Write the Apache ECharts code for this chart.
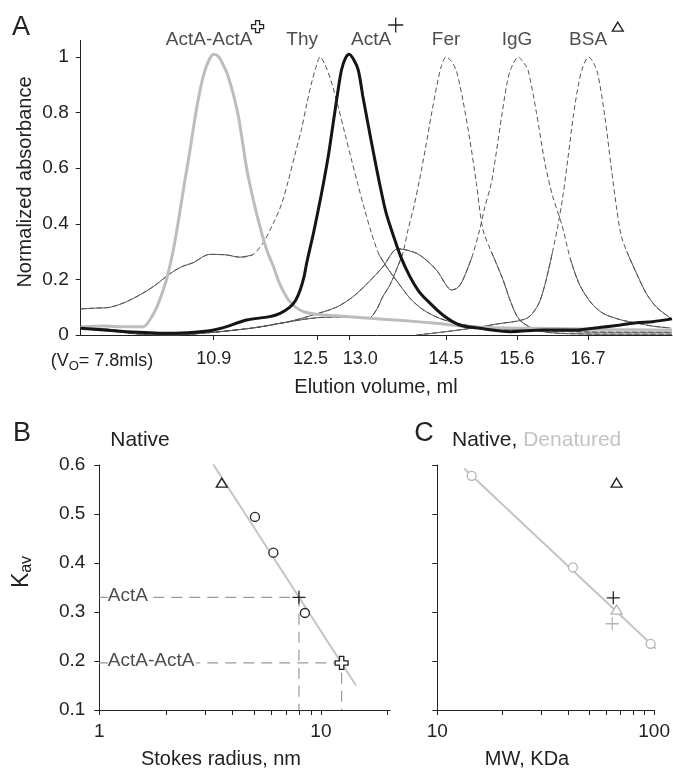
<!DOCTYPE html>
<html>
<head>
<meta charset="utf-8">
<script src="https://cdn.jsdelivr.net/npm/echarts@6/dist/echarts.min.js"></script>
<style>
body{margin:0;background:#fff;}
#main{width:673px;height:768px;}
</style>
</head>
<body>
<div id="main"></div>
<script>
// ---- panel A : elution profiles, [volume ml, normalized absorbance]
var actaDimerCurve = [[8.84,0.03],[9.2,0.032],[9.5,0.03],[9.81,0.03],[9.91,0.054],[10.02,0.10],[10.1,0.15],[10.17,0.2],[10.27,0.3],[10.36,0.42],[10.45,0.55],[10.53,0.66],[10.61,0.78],[10.68,0.87],[10.75,0.94],[10.83,0.99],[10.9,1.01],[10.98,1.0],[11.05,0.97],[11.11,0.94],[11.2,0.87],[11.28,0.79],[11.35,0.69],[11.41,0.6],[11.52,0.48],[11.64,0.37],[11.73,0.3],[11.82,0.25],[11.93,0.18],[12.08,0.12],[12.29,0.084],[12.6,0.072],[13.0,0.066],[13.32,0.06],[13.83,0.052],[14.35,0.042],[14.87,0.03],[15.5,0.025],[16.2,0.023],[17.0,0.02],[18.0,0.017]];
var actaCurve = [[8.84,0.024],[9.2,0.018],[9.55,0.012],[10.22,0.006],[10.6,0.01],[10.9,0.018],[11.1,0.03],[11.41,0.054],[11.77,0.066],[11.93,0.078],[12.08,0.10],[12.17,0.125],[12.24,0.162],[12.3,0.21],[12.34,0.258],[12.39,0.31],[12.44,0.36],[12.52,0.45],[12.6,0.545],[12.68,0.65],[12.75,0.76],[12.82,0.87],[12.88,0.953],[12.94,0.995],[13.0,1.01],[13.07,0.99],[13.14,0.953],[13.21,0.86],[13.29,0.76],[13.38,0.65],[13.47,0.545],[13.57,0.44],[13.68,0.36],[13.8,0.28],[13.94,0.21],[14.07,0.16],[14.2,0.126],[14.45,0.072],[14.71,0.036],[15.02,0.024],[15.5,0.012],[16.0,0.018],[16.5,0.018],[16.9,0.028],[17.2,0.036],[17.45,0.044],[17.7,0.048],[18.0,0.058]];
var thyCurve = [[8.84,0.094],[9.1,0.097],[9.3,0.10],[9.55,0.12],[9.8,0.15],[10.0,0.18],[10.22,0.22],[10.4,0.245],[10.58,0.26],[10.84,0.29],[11.1,0.288],[11.3,0.28],[11.5,0.288],[11.66,0.33],[11.82,0.40],[11.95,0.47],[12.05,0.55],[12.16,0.65],[12.26,0.74],[12.35,0.84],[12.42,0.91],[12.48,0.96],[12.55,1.0],[12.63,0.97],[12.73,0.905],[12.83,0.82],[12.93,0.727],[13.03,0.635],[13.13,0.545],[13.24,0.45],[13.34,0.37],[13.46,0.29],[13.58,0.245],[13.75,0.19],[13.95,0.13],[14.15,0.09],[14.4,0.06],[14.7,0.04],[15.0,0.03],[15.5,0.02],[16.0,0.015],[17.0,0.01],[18.0,0.01]];
var ferCurve = [[8.84,0.03],[9.3,0.02],[9.8,0.006],[10.2,0.0],[10.9,0.01],[11.5,0.025],[12.0,0.045],[12.5,0.062],[13.0,0.065],[13.3,0.06],[13.42,0.09],[13.52,0.138],[13.63,0.18],[13.73,0.234],[13.83,0.294],[13.91,0.378],[14.0,0.46],[14.09,0.56],[14.18,0.67],[14.27,0.79],[14.36,0.9],[14.43,0.97],[14.5,1.0],[14.58,0.985],[14.66,0.95],[14.76,0.845],[14.87,0.70],[14.97,0.545],[15.07,0.38],[15.2,0.3],[15.38,0.2],[15.5,0.12],[15.64,0.054],[15.9,0.018],[16.2,0.007],[17.0,0.003],[18.0,0.003]];
var iggCurve = [[8.84,0.03],[9.3,0.015],[9.8,0.002],[10.3,0.0],[10.9,0.01],[11.5,0.025],[11.77,0.035],[12.1,0.05],[12.44,0.072],[12.8,0.10],[13.06,0.138],[13.3,0.19],[13.52,0.245],[13.75,0.31],[13.9,0.305],[14.09,0.288],[14.35,0.234],[14.5,0.18],[14.58,0.162],[14.68,0.17],[14.76,0.198],[14.9,0.28],[15.02,0.378],[15.1,0.46],[15.2,0.545],[15.28,0.66],[15.36,0.785],[15.44,0.9],[15.5,0.955],[15.62,1.0],[15.7,0.98],[15.77,0.953],[15.9,0.8],[16.03,0.62],[16.15,0.5],[16.29,0.4],[16.43,0.27],[16.57,0.18],[16.75,0.115],[16.93,0.078],[17.2,0.055],[17.45,0.043],[17.7,0.032],[17.98,0.025]];
var bsaCurve = [[14.04,0.0],[14.5,0.012],[15.0,0.028],[15.3,0.04],[15.6,0.05],[15.75,0.06],[15.84,0.078],[15.95,0.12],[16.05,0.198],[16.15,0.3],[16.23,0.39],[16.31,0.5],[16.39,0.64],[16.47,0.785],[16.55,0.9],[16.62,0.965],[16.71,1.0],[16.78,0.98],[16.85,0.94],[16.96,0.785],[17.06,0.6],[17.14,0.46],[17.21,0.36],[17.3,0.3],[17.45,0.222],[17.6,0.15],[17.76,0.10],[17.98,0.06]];

var elutionTicks = [10.9,12.5,13.0,14.5,15.6,16.7];
// labels are nudged apart where ticks crowd (12.5 / 13.0)
var elutionLabelPos = [9.17,10.9,12.4,13.17,14.5,15.6,16.7];
var elutionLabelText = ['(V{s|O}= 7.8mls)','10.9','12.5','13.0','14.5','15.6','16.7'];
var absTicks = [0,0.2,0.4,0.6,0.8,1];

var peakNames = ['ActA-ActA','Thy','ActA','Fer','IgG','BSA'];
var peakLabelVol = [10.83,12.27,13.34,14.5,15.6,16.7];
var peakLabelAbs = [1.061,1.061,1.061,1.061,1.061,1.061];
var peakMarkVol = [11.58,13.72,17.16];
var peakMarkAbs = [1.109,1.115,1.109];

// ---- panel B : Kav vs Stokes radius (native)
var stdRadius = [5.04,6.1,8.47];
var stdKavB = [0.494,0.421,0.298];
var bsaRadius = [3.57];
var bsaKavB = [0.564];
var actaRadius = [7.96];
var actaKavB = [0.33];
var dimerRadius = [12.4];
var dimerKavB = [0.196];
var fitRadius = [3.27,14.4];
var fitKavB = [0.601,0.15];
var radiusTicks = [1,2,3,4,5,6,7,8,9,10,20];
var radiusLabels = [1,10];
var kavTicks = [0.1,0.2,0.3,0.4,0.5,0.6];

// ---- panel C : Kav vs MW (native black, denatured grey)
var denStdMW = [14.4,42.2,96.3];
var denStdKav = [0.578,0.391,0.235];
var denBsaMW = [67.1];
var denBsaKav = [0.305];
var denActaMW = [64.1];
var denActaKav = [0.276];
var natBsaMW = [67.1];
var natBsaKav = [0.564];
var natActaMW = [64.8];
var natActaKav = [0.329];
var denFitMW = [13.3,103.9];
var denFitKav = [0.593,0.222];
var mwTicks = [10,20,30,40,50,60,70,80,90,100];
var mwLabels = [10,100];

var FONT = 'Liberation Sans';
var INK = '#222';
var PALE = '#c4c4c4';

var PLUS = 'path://M0,6L12,6M6,0L6,12';
var HCROSS = 'path://M4,0L8,0L8,4L12,4L12,8L8,8L8,12L4,12L4,8L0,8L0,4L4,4Z';

function logPts(xs, ys){
	var out = [];
	for (var i = 0; i < xs.length; i++) out.push([Math.log10(xs[i]), ys[i]]);
	return out;
}
function logList(xs){
	return xs.map(function(v){ return Math.log10(v); });
}
// keep only the low (solid) stretch of a standard trace
function lowPart(curve, lim){
	return curve.map(function(p){ return p[1] <= lim ? p : [p[0], '-']; });
}

function baseAxis(grid){
	return {
		type:'value', gridIndex:grid,
		axisLine:{show:true, onZero:false, lineStyle:{color:INK, width:1}},
		axisTick:{show:true, length:5, lineStyle:{color:INK, width:1}},
		axisLabel:{color:INK, fontSize:19, fontFamily:FONT},
		splitLine:{show:false}
	};
}

function standardSeries(curve){
	return [
		{type:'line', xAxisIndex:0, yAxisIndex:0, data:curve, smooth:0.3, symbol:'none',
		 lineStyle:{color:'#555', width:1, type:[5,3]}, z:2, silent:true},
		{type:'line', xAxisIndex:0, yAxisIndex:0, data:lowPart(curve, 0.32), smooth:0.3, symbol:'none',
		 lineStyle:{color:'#555', width:1}, z:2, silent:true}
	];
}

function markSeries(xi, data, symbol, size, color, fill, z){
	return {type:'scatter', xAxisIndex:xi, yAxisIndex:xi, data:data, symbol:symbol, symbolSize:size,
		itemStyle:{color:fill, borderColor:color, borderWidth:1.3, opacity:1}, z:z||6, clip:false, silent:true};
}

var xA = baseAxis(0);
xA.min = 8.84; xA.max = 18.0;
xA.axisTick.customValues = elutionTicks;
xA.axisLabel.customValues = elutionLabelPos;
xA.axisLabel.margin = 15;
xA.axisLabel.fontSize = 18;
xA.axisLabel.formatter = function(v){
	for (var i = 0; i < elutionLabelPos.length; i++) {
		if (Math.abs(v - elutionLabelPos[i]) < 1e-6) return elutionLabelText[i];
	}
	return '';
};
xA.axisLabel.rich = {s:{fontSize:13, fontFamily:FONT, color:INK, padding:[10,0,0,0]}};

var yA = baseAxis(0);
yA.min = 0; yA.max = 1.06;
yA.axisTick.customValues = absTicks;
yA.axisLabel.customValues = absTicks;
yA.axisLabel.margin = 12;

var xB = baseAxis(1);
xB.min = 0; xB.max = Math.log10(20.5);
xB.axisTick.customValues = logList(radiusTicks);
xB.axisLabel.customValues = logList(radiusLabels);
xB.axisLabel.margin = 12;
xB.axisLabel.formatter = function(v){ return String(Math.round(Math.pow(10, v))); };

var yB = baseAxis(1);
yB.min = 0.1; yB.max = 0.6;
yB.axisTick.customValues = kavTicks;
yB.axisLabel.customValues = kavTicks;
yB.axisLabel.margin = 14;
yB.axisLabel.formatter = function(v){ return v.toFixed(1); };

var xC = baseAxis(2);
xC.min = 1; xC.max = 2;
xC.axisTick.customValues = logList(mwTicks);
xC.axisLabel.customValues = logList(mwLabels);
xC.axisLabel.margin = 12;
xC.axisLabel.formatter = function(v){ return String(Math.round(Math.pow(10, v))); };

var yC = baseAxis(2);
yC.min = 0.1; yC.max = 0.6;
yC.axisTick.customValues = kavTicks;
yC.axisLabel.show = false;

var series = [];
series = series.concat(standardSeries(thyCurve), standardSeries(ferCurve), standardSeries(iggCurve), standardSeries(bsaCurve));
series.push({type:'line', xAxisIndex:0, yAxisIndex:0, data:actaDimerCurve, smooth:0.3, symbol:'none',
	lineStyle:{color:'#bdbdbd', width:3}, z:3, silent:true});
series.push({type:'line', xAxisIndex:0, yAxisIndex:0, data:actaCurve, smooth:0.3, symbol:'none',
	lineStyle:{color:'#151515', width:3}, z:4, silent:true});

// peak names above panel A
series.push({type:'scatter', xAxisIndex:0, yAxisIndex:0, clip:false, silent:true, symbolSize:1,
	itemStyle:{color:'rgba(0,0,0,0)'},
	label:{show:true, position:'inside', formatter:'{b}', color:INK, fontSize:19, fontFamily:FONT},
	data:peakNames.map(function(n, i){ return {name:n, value:[peakLabelVol[i], peakLabelAbs[i]]}; })});
series.push(markSeries(0, [[peakMarkVol[0], peakMarkAbs[0]]], HCROSS, 12, INK, '#fff'));
series.push(markSeries(0, [[peakMarkVol[1], peakMarkAbs[1]]], PLUS, 15, INK, 'none'));
series.push(markSeries(0, [[peakMarkVol[2], peakMarkAbs[2]]], 'triangle', [11, 9], INK, '#fff'));

// panel B
var guideStyle = {color:'#9a9a9a', width:1.2, type:[11,7]};
series.push({type:'line', xAxisIndex:1, yAxisIndex:1, data:[[0, actaKavB[0]], [Math.log10(actaRadius[0]), actaKavB[0]], [Math.log10(actaRadius[0]), 0.1]],
	symbol:'none', lineStyle:guideStyle, z:2, silent:true});
series.push({type:'line', xAxisIndex:1, yAxisIndex:1, data:[[0, dimerKavB[0]], [Math.log10(dimerRadius[0]), dimerKavB[0]], [Math.log10(dimerRadius[0]), 0.1]],
	symbol:'none', lineStyle:guideStyle, z:2, silent:true});
series.push({type:'line', xAxisIndex:1, yAxisIndex:1, data:logPts(fitRadius, fitKavB), symbol:'none', clip:false,
	lineStyle:{color:PALE, width:2}, z:3, silent:true});
series.push({type:'scatter', xAxisIndex:1, yAxisIndex:1, silent:true, symbolSize:1, itemStyle:{color:'rgba(0,0,0,0)'},
	label:{show:true, position:'right', distance:8, formatter:'{b}', color:INK, fontSize:19, fontFamily:FONT,
		backgroundColor:'#fff', padding:[0,2,0,0], offset:[0,-2]},
	data:[{name:'ActA', value:[0, actaKavB[0]]}, {name:'ActA-ActA', value:[0, dimerKavB[0]]}], z:5});
series.push(markSeries(1, logPts(stdRadius, stdKavB), 'circle', 9, INK, '#fff'));
series.push(markSeries(1, logPts(bsaRadius, bsaKavB), 'triangle', [11, 9], INK, '#fff'));
series.push(markSeries(1, logPts(actaRadius, actaKavB), PLUS, 13, INK, 'none'));
series.push(markSeries(1, logPts(dimerRadius, dimerKavB), HCROSS, 13, INK, '#fff'));

// panel C
series.push({type:'line', xAxisIndex:2, yAxisIndex:2, data:logPts(denFitMW, denFitKav), symbol:'none', clip:false,
	lineStyle:{color:PALE, width:2}, z:3, silent:true});
series.push(markSeries(2, logPts(denStdMW, denStdKav), 'circle', 9, '#b5b5b5', '#fff'));
series.push(markSeries(2, logPts(denBsaMW, denBsaKav), 'triangle', [11, 9], '#b5b5b5', '#fff'));
series.push(markSeries(2, logPts(denActaMW, denActaKav), PLUS, 13, '#b5b5b5', 'none'));
series.push(markSeries(2, logPts(natBsaMW, natBsaKav), 'triangle', [11, 9], INK, '#fff'));
series.push(markSeries(2, logPts(natActaMW, natActaKav), PLUS, 13, INK, 'none'));

function txt(x, y, s, size, color, rot){
	return {type:'text', x:x, y:y, rotation:rot || 0, silent:true,
		style:{text:s, font:size + 'px "' + FONT + '"', fill:color || INK,
			align:'center', verticalAlign:'middle', textAlign:'center', textVerticalAlign:'middle'}};
}

var graphics = [
	txt(21, 28, 'A', 27),
	txt(22, 434, 'B', 27),
	txt(424, 434, 'C', 27),
	txt(25, 182, 'Normalized absorbance', 20, INK, Math.PI / 2),
	txt(376, 387, 'Elution volume, ml', 20),
	txt(140, 440, 'Native', 21),
	txt(221, 759, 'Stokes radius, nm', 20),
	txt(527, 759, 'MW, KDa', 20),
	{type:'text', x:452, y:440, silent:true,
		style:{text:'{n|Native, }{d|Denatured}', verticalAlign:'middle', textVerticalAlign:'middle',
			rich:{n:{fontSize:21, fontFamily:FONT, fill:INK, color:INK}, d:{fontSize:21, fontFamily:FONT, fill:PALE, color:PALE}}}},
	{type:'text', x:22, y:572, rotation:Math.PI / 2, silent:true,
		style:{text:'{k|K}{s|av}', align:'center', verticalAlign:'middle', textAlign:'center', textVerticalAlign:'middle',
			rich:{k:{fontSize:23, fontFamily:FONT, fill:INK, color:INK}, s:{fontSize:16, fontFamily:FONT, fill:INK, color:INK, padding:[10,0,0,0]}}}}
];

var chart = echarts.init(document.getElementById('main'));
chart.setOption({
	animation:false,
	backgroundColor:'#fff',
	textStyle:{fontFamily:FONT, color:INK},
	grid:[
		{left:80.7, top:40.3, width:591.3, height:294.7},
		{left:99.3, top:465, width:290.7, height:245},
		{left:437.3, top:465, width:223, height:245}
	],
	xAxis:[xA, xB, xC],
	yAxis:[yA, yB, yC],
	series:series,
	graphic:graphics
});
</script>
</body>
</html>
